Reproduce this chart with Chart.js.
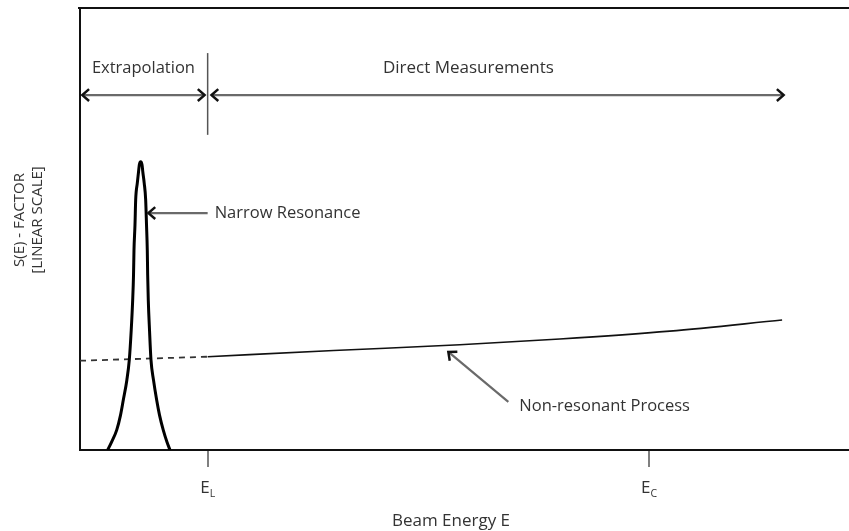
<!DOCTYPE html>
<html>
<head>
<meta charset="utf-8">
<script src="https://cdn.jsdelivr.net/npm/chart.js@4.4.1/dist/chart.umd.min.js"></script>
<style>
  html, body { margin: 0; padding: 0; background: #fff; }
  #wrap { width: 849px; height: 531px; position: relative; }
</style>
</head>
<body>
<div id="wrap"><canvas id="sFactorChart"></canvas></div>
<script>
// beam energy (arbitrary units) vs S-factor (linear, arbitrary units)
const resonanceE = [0.360, 0.410, 0.477, 0.527, 0.563, 0.609, 0.641, 0.666, 0.685, 0.696, 0.702, 0.715, 0.724, 0.745, 0.761, 0.771, 0.789,
                    0.807, 0.817, 0.835, 0.854, 0.865, 0.875, 0.880, 0.888, 0.904, 0.923, 0.956, 0.997, 1.034, 1.083, 1.131, 1.170];
const resonanceS = [0, 0.18, 0.45, 0.79, 1.13, 1.58, 2.04, 2.71, 3.39, 3.96, 4.52, 5.09, 5.66, 6.04, 6.29, 6.45, 6.52,
                    6.45, 6.29, 6.04, 5.66, 5.09, 4.52, 3.96, 3.39, 2.71, 2.04, 1.58, 1.13, 0.79, 0.45, 0.18, 0];

const extrapE = [0, 1.66];
const extrapS = [2.02, 2.11];
const directE = [1.66, 3.3, 4.94, 6.24, 7.67, 9.13];
const directS = [2.11, 2.25, 2.38, 2.51, 2.69, 2.94];

const tickE = [1.66, 7.40];
const tickSub = ['L', 'C'];

// annotation positions, in data units
const spanS = 8.03;
const extrapSpan = [0.03, 1.62];
const directSpan = [1.71, 9.15];
const dividerS = [7.13, 8.98];
const spanLabelS = 8.64;
const resonanceArrow = [1.66, 0.89, 5.36];       // tail E, tip E, S
const nonResArrow = [5.57, 1.09, 4.79, 2.22];    // tail E, tail S, tip E, tip S

const toPoints = (xs, ys) => xs.map((v, i) => ({x: v, y: ys[i]}));

Chart.defaults.font.family = "'Open Sans', sans-serif";

function arrowHead(ctx, x, y, ang) {
    const len = 9, spread = 0.72;
    ctx.beginPath();
    ctx.moveTo(x - len * Math.cos(ang - spread), y - len * Math.sin(ang - spread));
    ctx.lineTo(x, y);
    ctx.lineTo(x - len * Math.cos(ang + spread), y - len * Math.sin(ang + spread));
    ctx.stroke();
}

function arrow(ctx, x1, y1, x2, y2, both) {
    ctx.strokeStyle = '#6a6a6a';
    ctx.lineWidth = 2.2;
    ctx.beginPath();
    ctx.moveTo(x1, y1);
    ctx.lineTo(x2, y2);
    ctx.stroke();
    ctx.strokeStyle = '#111';
    ctx.lineWidth = 2.5;
    const ang = Math.atan2(y2 - y1, x2 - x1);
    arrowHead(ctx, x2, y2, ang);
    if (both) arrowHead(ctx, x1, y1, ang + Math.PI);
}

const notesPlugin = {
    id: 'sketchNotes',
    afterDraw(chart) {
        const {ctx, chartArea: area, scales: {x, y}} = chart;
        const px = v => x.getPixelForValue(v);
        const py = v => y.getPixelForValue(v);
        ctx.save();

        // top frame line
        ctx.strokeStyle = '#111';
        ctx.lineWidth = 2;
        ctx.beginPath();
        ctx.moveTo(area.left - 2, area.top);
        ctx.lineTo(area.right, area.top);
        ctx.stroke();

        // divider between the two regions
        ctx.strokeStyle = '#555';
        ctx.lineWidth = 1.5;
        ctx.beginPath();
        ctx.moveTo(px(tickE[0]), py(dividerS[0]));
        ctx.lineTo(px(tickE[0]), py(dividerS[1]));
        ctx.stroke();

        arrow(ctx, px(extrapSpan[0]), py(spanS), px(extrapSpan[1]), py(spanS), true);
        arrow(ctx, px(directSpan[0]), py(spanS), px(directSpan[1]), py(spanS), true);
        arrow(ctx, px(resonanceArrow[0]), py(resonanceArrow[2]), px(resonanceArrow[1]), py(resonanceArrow[2]), false);
        arrow(ctx, px(nonResArrow[0]), py(nonResArrow[1]), px(nonResArrow[2]), py(nonResArrow[3]), false);

        ctx.fillStyle = '#333';
        ctx.font = "16.5px 'Open Sans', sans-serif";
        ctx.textBaseline = 'middle';
        ctx.textAlign = 'center';
        ctx.fillText('Extrapolation', px((extrapSpan[0] + extrapSpan[1]) / 2), py(spanLabelS));
        ctx.font = "17px 'Open Sans', sans-serif";
        ctx.fillText('Direct Measurements', px(5.05), py(spanLabelS));
        ctx.font = "16.5px 'Open Sans', sans-serif";
        ctx.textAlign = 'left';
        ctx.fillText('Narrow Resonance', px(resonanceArrow[0]) + 7, py(resonanceArrow[2]));
        ctx.fillText('Non-resonant Process', px(nonResArrow[0]) + 11, py(1.0));

        // tick labels with subscripts
        tickE.forEach((v, i) => {
            ctx.font = "17px 'Open Sans', sans-serif";
            const wE = ctx.measureText('E').width;
            ctx.font = "10.5px 'Open Sans', sans-serif";
            const wS = ctx.measureText(tickSub[i]).width;
            const x0 = px(v) - (wE + wS) / 2;
            ctx.textAlign = 'left';
            ctx.textBaseline = 'alphabetic';
            ctx.font = "17px 'Open Sans', sans-serif";
            ctx.fillText('E', x0, area.bottom + 43);
            ctx.font = "10.5px 'Open Sans', sans-serif";
            ctx.fillText(tickSub[i], x0 + wE, area.bottom + 47);
        });

        // axis titles
        ctx.font = "17px 'Open Sans', sans-serif";
        ctx.textAlign = 'center';
        ctx.textBaseline = 'middle';
        ctx.fillText('Beam Energy E', 451, area.bottom + 71);
        ctx.font = "15px 'Open Sans', sans-serif";
        ctx.translate(29, 220);
        ctx.rotate(-Math.PI / 2);
        ctx.fillText('S(E) - FACTOR', 0, -9);
        ctx.fillText('[LINEAR SCALE]', 0, 9);
        ctx.restore();
    }
};

new Chart(document.getElementById('sFactorChart'), {
    type: 'line',
    data: {
        datasets: [{
            data: toPoints(resonanceE, resonanceS),
            borderColor: '#000',
            borderWidth: 3,
            pointRadius: 0,
            cubicInterpolationMode: 'monotone'
        }, {
            data: toPoints(extrapE, extrapS),
            borderColor: '#333',
            borderWidth: 1.8,
            borderDash: [6, 5],
            pointRadius: 0
        }, {
            data: toPoints(directE, directS),
            borderColor: '#111',
            borderWidth: 1.6,
            pointRadius: 0,
            cubicInterpolationMode: 'monotone'
        }]
    },
    options: {
        responsive: true,
        maintainAspectRatio: false,
        animation: false,
        layout: { padding: { left: 80, top: 8, right: 0, bottom: 81 } },
        plugins: { legend: { display: false }, tooltip: { enabled: false } },
        scales: {
            x: {
                type: 'linear',
                min: 0,
                max: 10,
                afterBuildTicks: s => { s.ticks = tickE.map(v => ({value: v})); },
                afterFit: s => { s.height = 0; },
                ticks: { display: false },
                grid: { drawOnChartArea: false, drawTicks: true, tickLength: 17, tickColor: '#808080', lineWidth: 2 },
                border: { display: true, color: '#111', width: 2 }
            },
            y: {
                min: 0,
                max: 10,
                afterFit: s => { s.width = 0; },
                ticks: { display: false },
                grid: { display: false },
                border: { display: true, color: '#111', width: 2 }
            }
        }
    },
    plugins: [notesPlugin]
});
</script>
</body>
</html>
